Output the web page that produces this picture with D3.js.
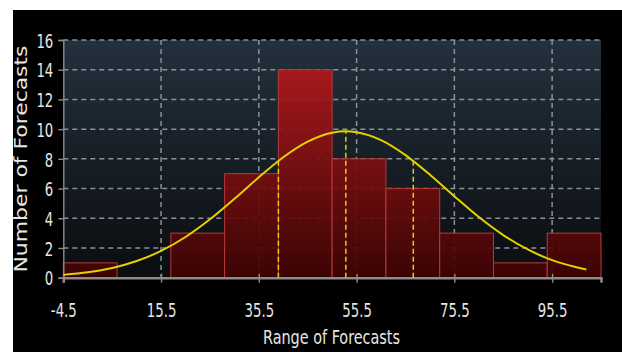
<!DOCTYPE html>
<html>
<head>
<meta charset="utf-8">
<script src="https://cdn.jsdelivr.net/npm/d3@7"></script>
<style>
html,body{margin:0;padding:0;background:#fff;}
svg{display:block;}
</style>
</head>
<body>
<svg id="chart" width="622" height="352"></svg>
<script>
// Histogram bins (lower/upper edges) and counts
const binStarts = [-4.5, 6.5, 17.5, 28.5, 39.5, 50.5, 61.5, 72.5, 83.5, 94.5];
const binEnds   = [6.5, 17.5, 28.5, 39.5, 50.5, 61.5, 72.5, 83.5, 94.5, 105.5];
const counts    = [1, 0, 3, 7, 14, 8, 6, 3, 1, 3];

// Fitted normal curve
const curveX = [-4.5, 0.5, 5.5, 10.5, 15.5, 20.5, 25.5, 30.5, 35.5, 40.5, 45.5, 50.5, 53.3, 55.5, 60.5, 65.5, 70.5, 75.5, 80.5, 85.5, 90.5, 95.5, 100.5, 102.5];
const curveY = [0.19, 0.36, 0.65, 1.12, 1.80, 2.74, 3.93, 5.31, 6.76, 8.11, 9.16, 9.76, 9.85, 9.79, 9.26, 8.25, 6.93, 5.48, 4.08, 2.87, 1.90, 1.18, 0.70, 0.55];

// Dashed markers (lower quartile, mean, upper quartile) and their heights
const markerX = [39.5, 53.3, 67.1];
const markerY = [7.85, 9.85, 7.85];

// Axis ticks
const xTicks = [-4.5, 15.5, 35.5, 55.5, 75.5, 95.5];
const xTickLabels = ["-4.5", "15.5", "35.5", "55.5", "75.5", "95.5"];
const yTicks = [0, 2, 4, 6, 8, 10, 12, 14, 16];

const xTitle = "Range of Forecasts";
const yTitle = "Number of Forecasts";

const svg = d3.select("#chart");
const W = 622, H = 352;
const plot = {left: 63.3, right: 601, top: 40, bottom: 277.7};

const narrow = "'DejaVu Sans Condensed', 'Liberation Sans Narrow', sans-serif";
const squeeze = 0.74;

// black panel
svg.append("rect").attr("x", 13).attr("y", 10).attr("width", W - 13).attr("height", H - 10).attr("fill", "#000");

const defs = svg.append("defs");
const bg = defs.append("linearGradient").attr("id", "bgGrad")
  .attr("gradientUnits", "userSpaceOnUse").attr("x1", 0).attr("x2", 0)
  .attr("y1", plot.top).attr("y2", plot.bottom);
bg.append("stop").attr("offset", "0").attr("stop-color", "#23313d");
bg.append("stop").attr("offset", "1").attr("stop-color", "#0a0c0f");

const barG = defs.append("linearGradient").attr("id", "barGrad")
  .attr("gradientUnits", "userSpaceOnUse").attr("x1", 0).attr("x2", 0)
  .attr("y1", plot.top).attr("y2", plot.bottom);
barG.append("stop").attr("offset", "0").attr("stop-color", "#c01a1f");
barG.append("stop").attr("offset", "1").attr("stop-color", "#3e0303");

const x = d3.scaleLinear().domain([-4.5, 105.5]).range([plot.left, plot.right]);
const y = d3.scaleLinear().domain([0, 16]).range([plot.bottom, plot.top]);

// plot background
svg.append("rect").attr("x", plot.left).attr("y", plot.top)
  .attr("width", plot.right - plot.left).attr("height", plot.bottom - plot.top)
  .attr("fill", "url(#bgGrad)");

// grid
const grid = svg.append("g").attr("stroke", "#8c9196").attr("stroke-width", 1.5).attr("stroke-dasharray", "5,4");
grid.selectAll("line.h").data(yTicks.filter(d => d > 0)).join("line")
  .attr("x1", plot.left).attr("x2", plot.right)
  .attr("y1", d => y(d)).attr("y2", d => y(d));
grid.selectAll("line.v").data(xTicks.filter(d => d > -4.5)).join("line")
  .attr("x1", d => x(d)).attr("x2", d => x(d))
  .attr("y1", plot.top).attr("y2", plot.bottom);

// bars
const bins = binStarts.map((s, i) => ({x0: s, x1: binEnds[i], n: counts[i]}));
svg.append("g").selectAll("rect").data(bins.filter(d => d.n > 0)).join("rect")
  .attr("x", d => x(d.x0)).attr("width", d => x(d.x1) - x(d.x0))
  .attr("y", d => y(d.n)).attr("height", d => y(0) - y(d.n))
  .attr("fill", "url(#barGrad)").attr("fill-opacity", 0.93)
  .attr("stroke", "#b53a3a").attr("stroke-width", 1);

// axes
const xAxis = d3.axisBottom(x).tickValues(xTicks).tickFormat((d, i) => xTickLabels[i]).tickSize(5).tickPadding(20);
const gx = svg.append("g").attr("transform", `translate(0,${plot.bottom})`).call(xAxis);
gx.select(".domain").attr("stroke", "#8c8c8c").attr("stroke-width", 2.5);
gx.selectAll(".tick line").attr("stroke", "#8c8c8c").attr("stroke-width", 1.4).attr("y1", -4);
gx.selectAll(".tick text").attr("fill", "#e6e6e6").attr("font-family", narrow).attr("font-size", 20)
  .attr("transform", `scale(${squeeze},1)`);

const yAxis = d3.axisLeft(y).tickValues(yTicks).tickSize(5).tickPadding(4);
const gy = svg.append("g").attr("transform", `translate(${plot.left},0)`).call(yAxis);
gy.select(".domain").attr("stroke", "#8c8c8c").attr("stroke-width", 1.4);
gy.selectAll(".tick line").attr("stroke", "#8c8c8c").attr("stroke-width", 1.4);
gy.selectAll(".tick text").attr("fill", "#e6e6e6").attr("font-family", narrow).attr("font-size", 20)
  .attr("dy", "0.36em").attr("x", -10 / squeeze).attr("transform", `scale(${squeeze},1)`);

// fitted curve
const pts = curveX.map((v, i) => [v, curveY[i]]);
svg.append("path").datum(pts)
  .attr("d", d3.line().x(d => x(d[0])).y(d => y(d[1])).curve(d3.curveMonotoneX))
  .attr("fill", "none").attr("stroke", "#e3d200").attr("stroke-width", 2);

// dashed marker lines
svg.append("g").selectAll("line").data(markerX).join("line")
  .attr("x1", d => x(d)).attr("x2", d => x(d))
  .attr("y1", y(0)).attr("y2", (d, i) => y(markerY[i]))
  .attr("stroke", "#e3d200").attr("stroke-width", 1.5).attr("stroke-dasharray", "5,3");

// titles
svg.append("text").attr("x", 331.5).attr("y", 344)
  .attr("text-anchor", "middle").attr("fill", "#e6e6e6")
  .attr("font-family", narrow).attr("font-size", 19)
  .attr("textLength", 137).attr("lengthAdjust", "spacingAndGlyphs").text(xTitle);

svg.append("text").attr("transform", "translate(26.5,159) rotate(-90)")
  .attr("text-anchor", "middle").attr("fill", "#e6e6e6")
  .attr("font-family", "'DejaVu Sans', sans-serif").attr("font-size", 18.5)
  .attr("textLength", 227).attr("lengthAdjust", "spacingAndGlyphs")
  .text(yTitle);
</script>
</body>
</html>
